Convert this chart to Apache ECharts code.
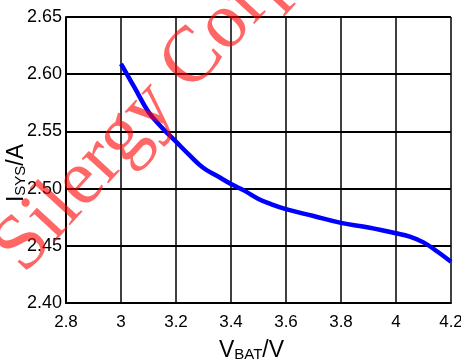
<!DOCTYPE html>
<html>
<head>
<meta charset="utf-8">
<script src="https://cdn.jsdelivr.net/npm/echarts@6/dist/echarts.min.js"></script>
<style>
  html, body { margin: 0; padding: 0; background: #fff; }
  #chart { width: 461px; height: 361px; }
</style>
</head>
<body>
<div id="chart"></div>
<script>
// battery voltage (V) and system current (A)
var vbat = [3.0, 3.05, 3.1, 3.15, 3.2, 3.25, 3.3, 3.35, 3.4, 3.45, 3.5, 3.55, 3.6, 3.7, 3.8, 3.9, 4.0, 4.05, 4.1, 4.15, 4.2];
var isys = [2.609, 2.588, 2.567, 2.553, 2.541, 2.529, 2.518, 2.511, 2.504, 2.498, 2.491, 2.486, 2.482, 2.476, 2.470, 2.466, 2.461, 2.458, 2.453, 2.445, 2.436];
var watermark = 'Silergy Corp';

var points = [];
for (var i = 0; i < vbat.length; i++) {
  points.push([vbat[i], isys[i]]);
}

var myChart = echarts.init(document.getElementById('chart'));

var nameRich = {
  v: { fontFamily: 'Liberation Sans', fontSize: 23, color: '#000' },
  s: { fontFamily: 'Liberation Sans', fontSize: 15, color: '#000', verticalAlign: 'bottom', padding: [8, 0, 0, 0] }
};

var option = {
  animation: false,
  grid: {
    left: 66,
    right: 10,
    top: 17,
    bottom: 58,
    containLabel: false,
    outerBoundsMode: 'none'
  },
  xAxis: {
    type: 'value',
    min: 2.8,
    max: 4.2,
    interval: 0.2,
    name: '{v|V}{s|BAT}{v|/V}',
    nameLocation: 'middle',
    nameGap: 36,
    nameMoveOverlap: false,
    nameTextStyle: { rich: nameRich, padding: [0, 14, 0, 0] },
    axisLine: { lineStyle: { color: '#000', width: 2 } },
    axisTick: { show: false },
    axisLabel: {
      margin: 11,
      fontFamily: 'Liberation Sans',
      fontSize: 17,
      color: '#000'
    },
    splitLine: { lineStyle: { color: '#000', width: 1.5 } }
  },
  yAxis: {
    type: 'value',
    min: 2.40,
    max: 2.65,
    interval: 0.05,
    name: '{v|I}{s|SYS}{v|/A}',
    nameLocation: 'middle',
    nameGap: 38,
    nameMoveOverlap: false,
    nameTextStyle: { rich: nameRich, padding: [0, 26, 0, 0] },
    axisLine: { show: true, lineStyle: { color: '#000', width: 2 } },
    axisTick: { show: false },
    axisLabel: {
      margin: 4,
      fontFamily: 'Liberation Sans',
      fontSize: 18,
      color: '#000',
      formatter: function (v) { return v.toFixed(2); }
    },
    splitLine: { lineStyle: { color: '#000', width: 2 } }
  },
  graphic: [
    {
      type: 'text',
      x: 9,
      y: 261,
      rotation: 47.5 * Math.PI / 180,
      z: 100,
      silent: true,
      style: {
        text: watermark,
        fontFamily: 'Liberation Serif',
        fontSize: 79,
        fill: 'rgba(255, 0, 0, 0.6)',
        textAlign: 'left',
        textVerticalAlign: 'middle'
      }
    }
  ],
  series: [
    {
      type: 'line',
      data: points,
      smooth: 0.4,
      symbol: 'none',
      lineStyle: { color: '#0000ff', width: 4.5 }
    }
  ]
};

myChart.setOption(option);
</script>
</body>
</html>
